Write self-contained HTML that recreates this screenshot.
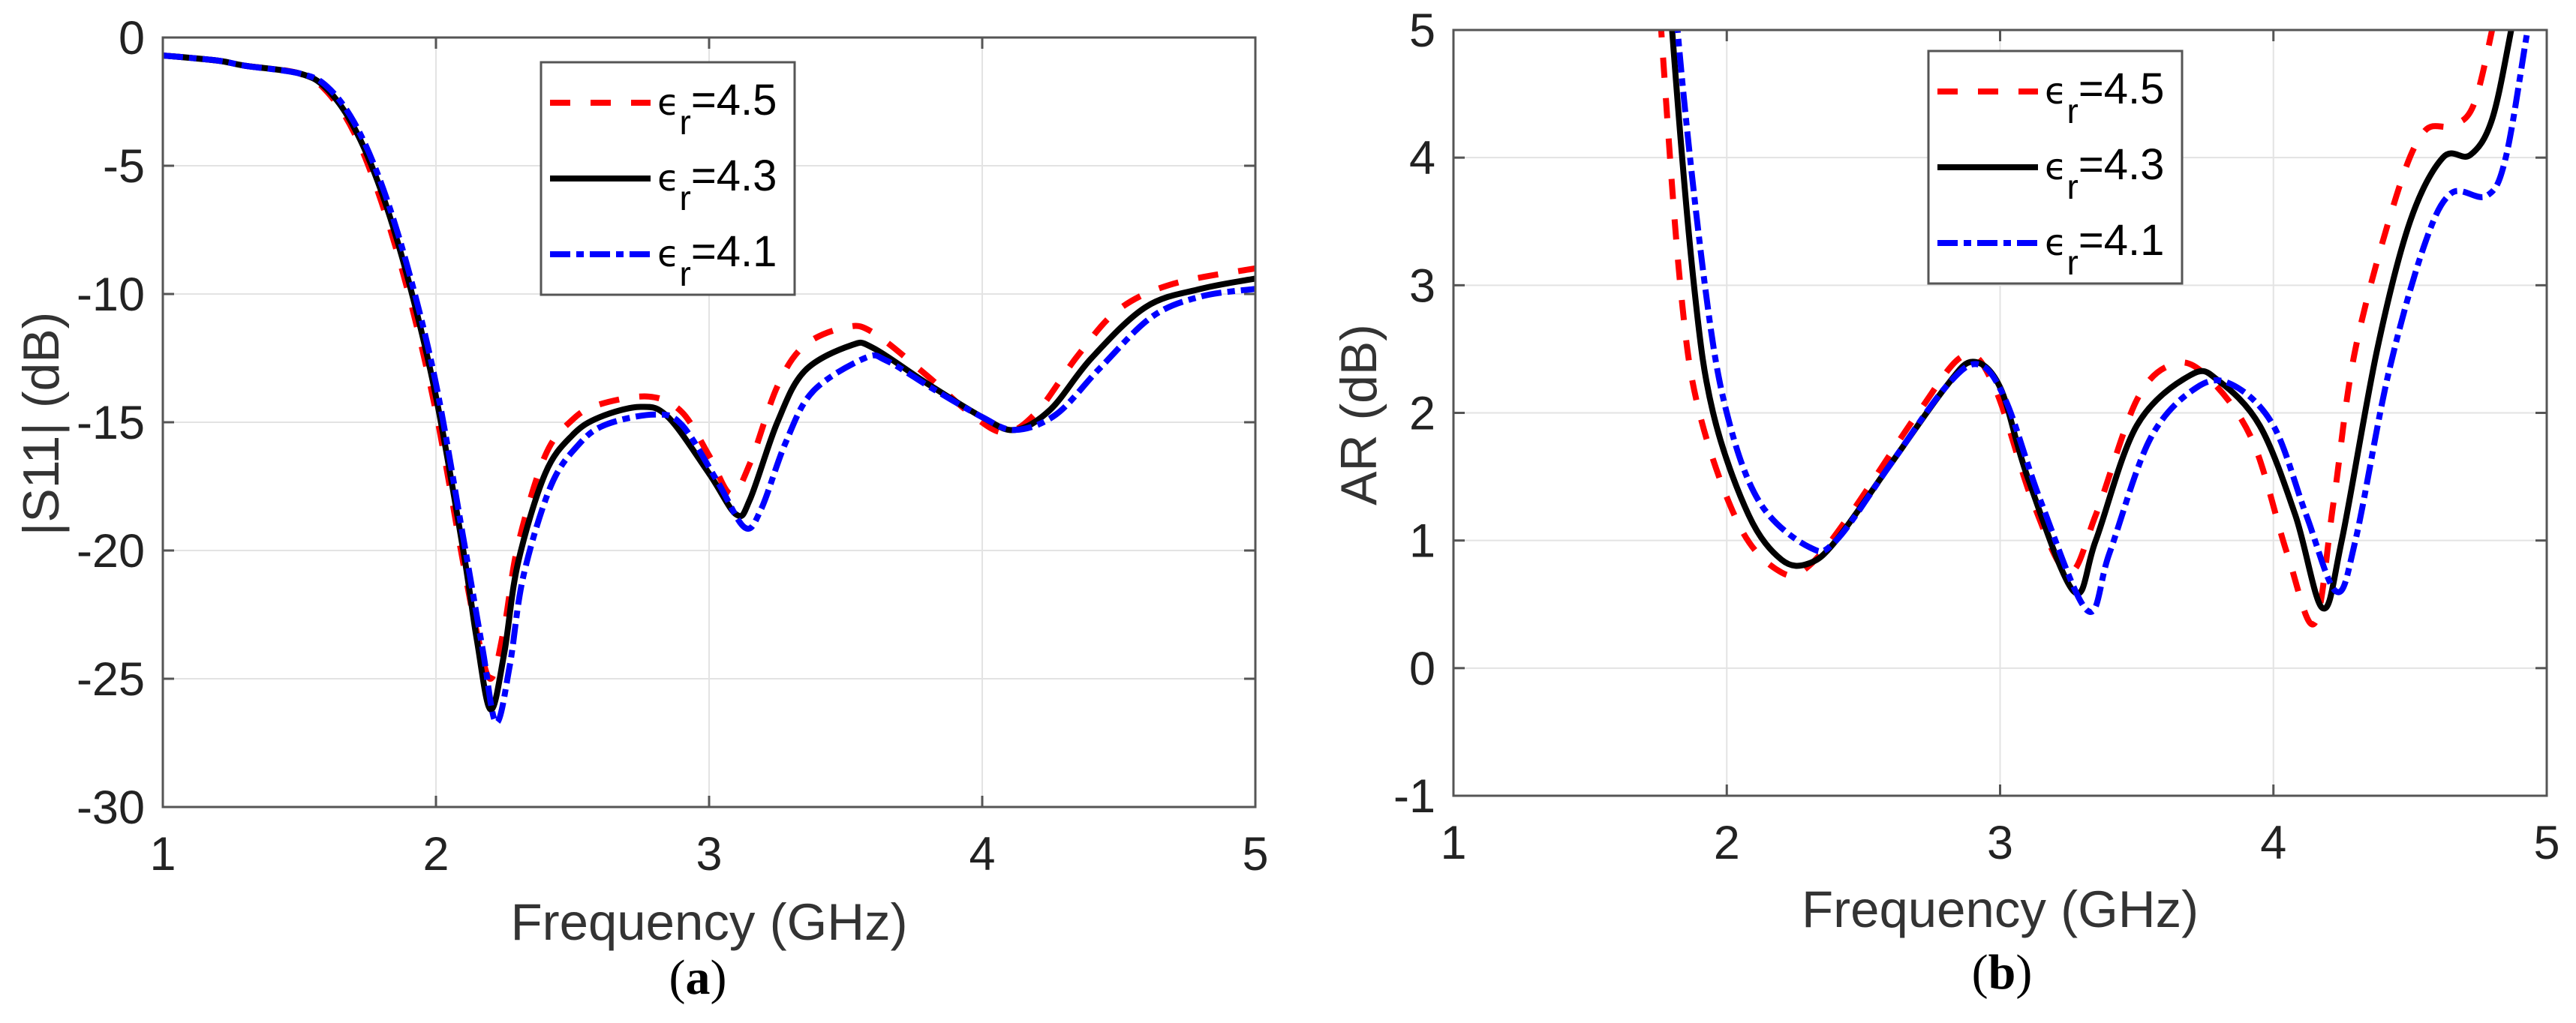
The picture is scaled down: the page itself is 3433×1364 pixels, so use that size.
<!DOCTYPE html>
<html><head><meta charset="utf-8"><style>
html,body{margin:0;padding:0;background:#fff;}
svg{display:block;font-family:"Liberation Sans",sans-serif;}
</style></head><body>
<svg id="fig" width="3433" height="1364" viewBox="0 0 3433 1364" xmlns="http://www.w3.org/2000/svg"></svg>
<script>
// ---- data: panel (a) |S11| ----
const s11Freq45 = [1.0,1.2,1.3,1.5,1.6,1.7,1.8,1.9,2.0,2.1,2.15,2.2,2.25,2.3,2.4,2.5,2.6,2.78,2.9,3.0,3.08,3.15,3.25,3.35,3.5,3.6,3.8,3.95,4.08,4.2,4.35,4.5,4.7,5.0];
const s11Val45  = [-0.7,-0.9,-1.1,-1.4,-2.1,-3.7,-6.4,-10,-14.6,-20.5,-23.2,-25,-23,-19.8,-16.3,-14.9,-14.3,-14,-14.6,-16.3,-17.8,-16.6,-13.6,-12,-11.3,-11.5,-13.2,-14.6,-15.4,-14.6,-12.4,-10.6,-9.6,-9.0];
const s11Freq43 = [1.0,1.2,1.3,1.5,1.6,1.7,1.8,1.9,2.0,2.1,2.15,2.2,2.25,2.3,2.4,2.5,2.6,2.75,2.85,3.0,3.1,3.15,3.25,3.35,3.52,3.6,3.8,4.0,4.12,4.25,4.4,4.6,4.8,5.0];
const s11Val43  = [-0.7,-0.9,-1.1,-1.4,-2.0,-3.5,-6.0,-9.5,-14,-20,-23.5,-26.2,-24,-20.5,-17,-15.5,-14.8,-14.4,-14.8,-17,-18.6,-18,-15,-13,-12,-12.1,-13.5,-14.8,-15.3,-14.5,-12.5,-10.5,-9.8,-9.4];
const s11Freq41 = [1.0,1.2,1.3,1.5,1.6,1.7,1.8,1.9,2.0,2.1,2.17,2.22,2.27,2.32,2.42,2.52,2.62,2.8,2.9,3.03,3.13,3.19,3.28,3.38,3.57,3.65,3.82,4.0,4.12,4.27,4.43,4.62,4.8,5.0];
const s11Val41  = [-0.7,-0.9,-1.1,-1.4,-1.9,-3.3,-5.7,-9.1,-13.5,-19.5,-23.8,-26.7,-24.5,-21,-17.5,-15.9,-15.1,-14.7,-15.1,-17.3,-19.1,-18.4,-15.8,-13.8,-12.5,-12.6,-13.7,-14.8,-15.3,-14.7,-12.9,-10.9,-10.1,-9.8];
// ---- data: panel (b) AR ----
const arFreq45 = [1.7,1.76,1.83,1.9,2.05,2.2,2.3,2.45,2.7,2.87,2.98,3.12,3.25,3.35,3.5,3.63,3.75,3.92,4.05,4.15,4.22,4.3,4.45,4.55,4.65,4.73,4.8,4.85];
const arVal45  = [7,5,3,2,1.1,0.75,0.8,1.2,2.0,2.45,2.2,1.3,0.75,1.2,2.1,2.38,2.3,1.8,0.9,0.35,1.3,2.5,3.7,4.2,4.25,4.4,5.0,5.6];
const arFreq43 = [1.74,1.8,1.88,1.95,2.08,2.2,2.3,2.4,2.6,2.8,2.9,3.0,3.1,3.27,3.35,3.5,3.7,3.8,3.95,4.08,4.18,4.25,4.38,4.5,4.62,4.72,4.8,4.87,4.92];
const arVal43  = [7,5,3,2,1.2,0.85,0.82,1.0,1.6,2.2,2.4,2.2,1.5,0.6,1.0,1.9,2.3,2.25,1.9,1.2,0.47,1.0,2.5,3.5,4.0,4.02,4.3,5.0,5.6];
const arFreq41 = [1.76,1.82,1.92,2.0,2.12,2.3,2.4,2.6,2.8,2.92,3.02,3.15,3.32,3.4,3.55,3.72,3.85,4.0,4.12,4.23,4.3,4.42,4.55,4.65,4.78,4.85,4.93,4.98];
const arVal41  = [7,5,3,2,1.3,0.95,1.0,1.6,2.2,2.38,2.1,1.3,0.45,0.9,1.8,2.2,2.22,1.9,1.2,0.6,1.0,2.3,3.3,3.72,3.7,4.0,5.0,5.6];
const xTicks = [1,2,3,4,5];
const s11Ticks = [0,-5,-10,-15,-20,-25,-30];
const arTicks = [5,4,3,2,1,0,-1];
const legendLabels = ["4.5","4.3","4.1"];

const NS="http://www.w3.org/2000/svg";
const svg=document.getElementById('fig');
function mk(tag,attrs,parent){const e=document.createElementNS(NS,tag);for(const k in attrs)e.setAttribute(k,attrs[k]);(parent||svg).appendChild(e);return e;}
function smooth(pts){let d='M'+pts[0][0]+','+pts[0][1];for(let i=0;i<pts.length-1;i++){const p0=pts[i-1]||pts[i],p1=pts[i],p2=pts[i+1],p3=pts[i+2]||p2;
const c1=[p1[0]+(p2[0]-p0[0])/6,p1[1]+(p2[1]-p0[1])/6],c2=[p2[0]-(p3[0]-p1[0])/6,p2[1]-(p3[1]-p1[1])/6];
d+=' C'+c1[0]+','+c1[1]+' '+c2[0]+','+c2[1]+' '+p2[0]+','+p2[1];}return d;}
const styles=[{c:'#ff0000',da:'27 27'},{c:'#000000',da:''},{c:'#0000ff',da:'27 8 10 8'}];

function panel(cfg){
  const {L,T,R,B,ymin,ymax,yticks,series,id}=cfg;
  const sx=f=>L+(f-1)/4*(R-L), sy=v=>T+(ymax-v)/(ymax-ymin)*(B-T);
  const g=mk('g',{});  
  mk('rect',{x:L,y:T,width:R-L,height:B-T,fill:'#fff'},g);
  xTicks.forEach(t=>{const l=mk('line',{x1:sx(t),x2:sx(t),y1:T,y2:B,stroke:'#e3e3e3','stroke-width':2},g);});
  yticks.forEach(t=>{const l=mk('line',{x1:L,x2:R,y1:sy(t),y2:sy(t),stroke:'#e3e3e3','stroke-width':2},g);});
  const cp=mk('clipPath',{id:id+'clip'},g);mk('rect',{x:L,y:T,width:R-L,height:B-T},cp);
  series.forEach((s,i)=>{const pts=s[0].map((f,j)=>[sx(f),sy(s[1][j])]);
    const p=mk('path',{d:smooth(pts),fill:'none',stroke:styles[i].c,'stroke-width':8,'stroke-dasharray':styles[i].da,'clip-path':'url(#'+id+'clip)','stroke-linejoin':'round'},g);
    });
  xTicks.forEach(t=>{mk('line',{x1:sx(t),x2:sx(t),y1:B,y2:B-15,stroke:'#555','stroke-width':3},g);mk('line',{x1:sx(t),x2:sx(t),y1:T,y2:T+15,stroke:'#555','stroke-width':3},g);
    const tx=mk('text',{x:sx(t),y:B+84,'font-size':63,'text-anchor':'middle',fill:'#222'},g);tx.textContent=t;});
  yticks.forEach(t=>{mk('line',{x1:L,x2:L+15,y1:sy(t),y2:sy(t),stroke:'#555','stroke-width':3},g);mk('line',{x1:R,x2:R-15,y1:sy(t),y2:sy(t),stroke:'#555','stroke-width':3},g);
    const tx=mk('text',{x:L-24,y:sy(t)+22,'font-size':63,'text-anchor':'end',fill:'#222'},g);tx.textContent=t;});
  mk('rect',{x:L,y:T,width:R-L,height:B-T,fill:'none',stroke:'#555','stroke-width':3},g);
  const xt=mk('text',{x:(L+R)/2,y:cfg.xtY,'font-size':69,'text-anchor':'middle',fill:'#333'},g);xt.textContent='Frequency (GHz)';
  const yt=mk('text',{x:0,y:0,'font-size':68,'text-anchor':'middle',fill:'#333',transform:'translate('+cfg.ytX+','+cfg.ytY+') rotate(-90)'},g);yt.textContent=cfg.ytitle;
  const cap=mk('text',{x:cfg.capX,y:cfg.capY,'font-size':66,'text-anchor':'middle',fill:'#000','font-family':'Liberation Serif, serif'},g);
  cap.innerHTML='(<tspan font-weight="bold">'+cfg.cap+'</tspan>)';
  const lg=mk('g',{transform:'translate('+cfg.lgX+','+cfg.lgY+')'},g);
  mk('rect',{x:0,y:0,width:338,height:310,fill:'#fff',stroke:'#555','stroke-width':3},lg);
  legendLabels.forEach((lab,i)=>{const yy=54+i*101;
    const ln=mk('line',{x1:12,x2:146,y1:yy,y2:yy,stroke:styles[i].c,'stroke-width':8,'stroke-dasharray':styles[i].da},lg);
    const t=mk('text',{x:155,y:yy+16,'font-size':58,fill:'#000'},lg);
    t.innerHTML='<tspan font-family="DejaVu Sans, sans-serif" font-size="48">ϵ</tspan><tspan dy="26" font-size="46">r</tspan><tspan dy="-26">='+lab+'</tspan>';
    });
}
panel({id:'s11',L:217,T:50,R:1673,B:1076,ymin:-30,ymax:0,yticks:s11Ticks,ytitle:'|S11| (dB)',ytX:78,ytY:565,xtY:1253,capX:930,capY:1325,cap:'a',lgX:721,lgY:83,
  series:[[s11Freq45,s11Val45],[s11Freq43,s11Val43],[s11Freq41,s11Val41]]});
panel({id:'ar',L:1937,T:40,R:3394,B:1061,ymin:-1,ymax:5,yticks:arTicks,ytitle:'AR (dB)',ytX:1834,ytY:553,xtY:1236,capX:2668,capY:1318,cap:'b',lgX:2570,lgY:68,
  series:[[arFreq45,arVal45],[arFreq43,arVal43],[arFreq41,arVal41]]});
</script>
</body></html>
